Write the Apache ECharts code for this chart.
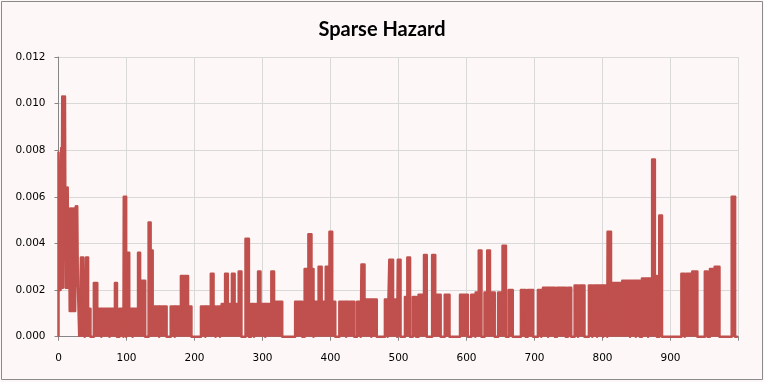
<!DOCTYPE html>
<html>
<head>
<meta charset="utf-8">
<script src="https://cdn.jsdelivr.net/npm/echarts@6/dist/echarts.min.js"></script>
<style>
  html, body { margin: 0; padding: 0; background: #FDF8F7; }
  #chart { width: 764px; height: 382px; }
</style>
</head>
<body>
<div id="chart"></div>
<script>
// ---- Data ----
// Early, dense zig-zag part of the hazard curve (time, hazard)
const earlyT = [0, 0, 1.5, 3, 4, 4.5, 5.5, 6.5, 7.5, 8.5, 9.5, 10.5, 11.5, 12.5, 13.5, 14.5,
                15.5, 16.5, 17.5, 18.5, 19.5, 20.5, 21.5, 22.5, 23.5, 24.5, 25.5, 26.5, 27.5, 28.5, 29.5, 30.5];
const earlyV = [0, 0.0079, 0.0079, 0.0020, 0.0081, 0.0021, 0.0103, 0.0021, 0.0103, 0.0050, 0.0103, 0.0021,
                0.0064, 0.0021, 0.0064, 0.0021, 0.0055, 0.0011, 0.0055, 0.0011, 0.0055, 0.0011, 0.0055, 0.0011,
                0.0055, 0.0011, 0.0056, 0.0022, 0.0056, 0.0022, 0.0022, 0];

// Later part: runs of non-zero hazard [startTime, endTime, hazard]; zero elsewhere
const blocks = [
  [33, 36.5, 0.0034], [36.5, 38.5, 0.0012], [40.5, 43.5, 0.0034], [43.5, 47, 0.0012],
  [52, 57, 0.0023], [57, 63, 0.0012], [64, 75, 0.0012], [76, 83, 0.0012], [83, 86, 0.0023],
  [89.5, 95.5, 0.0012], [96, 99.5, 0.0060], [100, 104, 0.0036], [104, 109, 0.0012],
  [110, 117, 0.0012], [117, 120, 0.0036], [120, 127.5, 0.0024],
  [132.5, 135.5, 0.0049], [135.5, 138.5, 0.0037], [138.5, 148, 0.0013], [149, 159, 0.0013],
  [165, 171, 0.0013], [171.5, 180, 0.0013], [180, 190.5, 0.0026], [190.5, 195.5, 0.0013],
  [209.5, 216, 0.0013], [216.5, 224, 0.0013], [224, 228, 0.0027], [228, 231, 0.0013],
  [233.5, 237.5, 0.0013], [240, 245, 0.0014], [245, 249, 0.0027], [249, 255, 0.0014],
  [255, 259, 0.0027], [259, 265, 0.0014], [265, 269, 0.0028], [275, 280, 0.0042],
  [283, 287.5, 0.0014], [290, 293.5, 0.0014], [293.5, 297, 0.0028], [297, 304, 0.0014],
  [305, 313, 0.0014], [313, 317, 0.0028], [317, 329, 0.0015],
  [348, 358.5, 0.0015], [362, 367.5, 0.0029], [367.5, 372, 0.0044], [372, 375, 0.0029],
  [377, 382.5, 0.0015], [382.5, 387, 0.0030], [387, 393, 0.0015], [393, 398.5, 0.0030],
  [398.5, 402.5, 0.0045], [402.5, 407, 0.0015], [413, 423, 0.0015], [424, 435, 0.0015],
  [439, 444.5, 0.0015], [445.5, 450, 0.0031], [450, 460, 0.0016], [461, 468, 0.0016],
  [480, 484, 0.0016], [486.5, 492, 0.0033], [492, 498, 0.0016], [499, 503, 0.0033],
  [509.5, 513, 0.0017], [513, 517, 0.0034], [521, 526, 0.0017], [529.5, 537.5, 0.0018],
  [537.5, 541.5, 0.0035], [549.5, 554, 0.0035], [554, 562, 0.0018], [568, 575, 0.0018],
  [590.5, 602, 0.0018], [607, 613, 0.0018], [613.5, 618, 0.0019], [618, 622, 0.0037],
  [626.5, 630.5, 0.0019], [630.5, 634.5, 0.0037], [634.5, 641.5, 0.0019],
  [646.5, 653, 0.0019], [653, 658, 0.0039], [662, 668, 0.0020],
  [680, 687, 0.0020], [690, 698, 0.0020], [705, 710, 0.0020], [712.5, 720, 0.0021],
  [721, 730, 0.0021], [733, 746, 0.0021], [749, 754, 0.0021], [759, 764, 0.0022],
  [766.5, 773.5, 0.0022], [780, 785, 0.0022], [787, 792, 0.0022], [793, 801, 0.0022],
  [802, 807, 0.0022], [807.5, 812.5, 0.0045], [812.5, 817.5, 0.0023], [817.5, 829, 0.0023],
  [829, 840.5, 0.0024], [842, 849, 0.0024], [850, 855, 0.0024], [858, 867, 0.0025],
  [868, 873, 0.0025], [873, 877, 0.0076], [877, 880, 0.0026], [883.5, 887.5, 0.0052],
  [916, 921, 0.0027], [923.5, 932, 0.0027], [932, 939.5, 0.0028], [950.5, 954.5, 0.0028],
  [958, 965, 0.0029], [965, 972, 0.0030], [990, 995, 0.0060]
];
const lastTime = 999;

const xTickLabels = ['0', '100', '200', '300', '400', '500', '600', '700', '800', '900'];
const yTickLabels = ['0.000', '0.002', '0.004', '0.006', '0.008', '0.010', '0.012'];

// ---- Build series data ----
const earlyData = earlyT.map((t, i) => [t, earlyV[i]]);
const mainData = [[earlyT[earlyT.length - 1], 0]];
blocks.forEach(([s, e, v], i) => {
  const prev = blocks[i - 1];
  const next = blocks[i + 1];
  if (!(prev && prev[1] === s)) mainData.push([s, 0]);
  mainData.push([s, v], [e, v]);
  if (!(next && next[0] === e)) mainData.push([e, 0]);
});
mainData.push([lastTime, 0]);

const red = '#C0504D';
const labelFont = { fontFamily: 'DejaVu Sans', fontSize: 10.5, color: '#000' };

const chart = echarts.init(document.getElementById('chart'), null, { renderer: 'canvas' });
chart.setOption({
  animation: false,
  backgroundColor: '#FDF8F7',
  title: {
    text: 'Sparse Hazard',
    left: 'center',
    top: 15,
    textStyle: { fontFamily: 'Lato', fontWeight: 'bold', fontSize: 20, color: '#000' }
  },
  grid: { left: 58.5, right: 25.5, top: 57, bottom: 45.3, containLabel: false },
  xAxis: {
    type: 'value', min: 0, max: 1000, interval: 100,
    axisLine: { show: true, lineStyle: { color: '#868686', width: 1 } },
    axisTick: { show: true, length: 4, lineStyle: { color: '#868686' } },
    splitLine: { show: true, lineStyle: { color: '#D9D9D9', width: 1 } },
    axisLabel: Object.assign({ margin: 16,
      formatter: v => { const s = String(Math.round(v)); return xTickLabels.includes(s) ? s : ''; } }, labelFont)
  },
  yAxis: {
    type: 'value', min: 0, max: 0.012, interval: 0.002,
    axisLine: { show: true, lineStyle: { color: '#868686', width: 1 } },
    axisTick: { show: true, length: 4, lineStyle: { color: '#868686' } },
    splitLine: { show: true, lineStyle: { color: '#D9D9D9', width: 1 } },
    axisLabel: Object.assign({ margin: 13,
      formatter: v => yTickLabels[Math.round(v / 0.002)] }, labelFont)
  },
  series: [
    {
      type: 'line', data: earlyData, showSymbol: false, symbol: 'none',
      lineStyle: { color: red, width: 2.5, join: 'round' }, z: 3
    },
    {
      type: 'line', data: mainData, showSymbol: false, symbol: 'none',
      lineStyle: { color: red, width: 2.5, join: 'round' },
      areaStyle: { color: red, opacity: 1 }, z: 3
    }
  ],
  graphic: [{
    type: 'rect', silent: true, z: 100,
    shape: { x: 1.5, y: 1.5, width: 761, height: 378 },
    style: { fill: 'none', stroke: '#8A8A8A', lineWidth: 1 }
  }]
});
</script>
</body>
</html>
